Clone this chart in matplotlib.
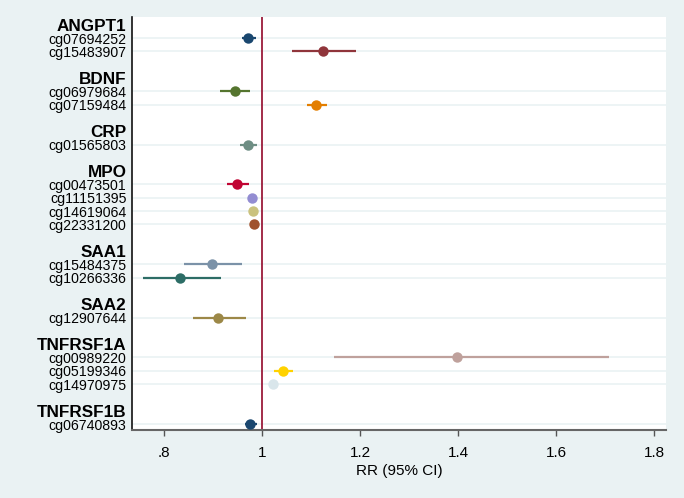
import numpy as np
import matplotlib.pyplot as plt

# gene groups and their CpG sites, top to bottom
genes = ["ANGPT1", "BDNF", "CRP", "MPO", "SAA1", "SAA2", "TNFRSF1A", "TNFRSF1B"]
cpgs = [
    ["cg07694252", "cg15483907"],
    ["cg06979684", "cg07159484"],
    ["cg01565803"],
    ["cg00473501", "cg11151395", "cg14619064", "cg22331200"],
    ["cg15484375", "cg10266336"],
    ["cg12907644"],
    ["cg00989220", "cg05199346", "cg14970975"],
    ["cg06740893"],
]
rr = [0.971, 1.124, 0.945, 1.110, 0.971, 0.949, 0.980, 0.982, 0.983,
      0.898, 0.833, 0.911, 1.398, 1.043, 1.023, 0.976]
lo = [0.959, 1.061, 0.914, 1.092, 0.955, 0.929, 0.976, 0.978, 0.979,
      0.841, 0.757, 0.860, 1.146, 1.024, 1.019, 0.965]
hi = [0.988, 1.192, 0.976, 1.133, 0.990, 0.973, 0.984, 0.986, 0.987,
      0.959, 0.917, 0.967, 1.708, 1.063, 1.027, 0.989]
xticks = [0.8, 1.0, 1.2, 1.4, 1.6, 1.8]
xticklabels = [".8", "1", "1.2", "1.4", "1.6", "1.8"]

# Stata s2color palette
palette = ["#1a476f", "#90353b", "#55752f", "#e37e00", "#6e8e84", "#c10534",
           "#938dd2", "#cac27e", "#a0522d", "#7b92a8", "#2d6d66", "#9c8847",
           "#bfa19c", "#ffd200", "#d9e6eb", "#1a476f"]
bg = "#eaf2f3"

plt.rcParams['font.family'] = ['Liberation Sans', 'DejaVu Sans']

# row positions: header row per gene, then CpG rows, blank row between groups
header_pos, item_pos, item_lab = [], [], []
r = 0
for g, sites in zip(genes, cpgs):
    header_pos.append(r)
    r += 1
    for s in sites:
        item_pos.append(r)
        item_lab.append(s)
        r += 1
    r += 1
item_pos = np.array(item_pos)

fig = plt.figure(figsize=(6.84, 4.98), dpi=100, facecolor=bg)
ax = fig.add_axes([0.193, 0.1365, 0.7807, 0.8294])
ax.set_facecolor("white")

for y in item_pos:
    ax.axhline(y, color=bg, lw=1.2, zorder=1)
ax.axvline(1, color="#9b1b3a", lw=1.3, zorder=2)

for i, y in enumerate(item_pos):
    ax.plot([lo[i], hi[i]], [y, y], color=palette[i], lw=1.6, zorder=3,
            solid_capstyle="butt")
    ax.plot(rr[i], y, "o", color=palette[i], ms=7.5, mec="none", zorder=4)

ax.set_xlim(0.7347, 1.8245)
ax.set_ylim(30.45, -0.58)

ax.set_yticks(list(item_pos) + header_pos)
labels = item_lab + genes
ax.set_yticklabels(labels)
for t, lab in zip(ax.get_yticklabels(), labels):
    if lab in genes:
        t.set_fontweight("bold")
        t.set_fontsize(12.3)
    else:
        t.set_fontsize(10.2)
ax.tick_params(axis="y", length=0, pad=4)

ax.set_xticks(xticks)
ax.set_xticklabels(xticklabels, fontsize=11)
ax.tick_params(axis="x", length=4.5, width=1, color="#555555", pad=7)
ax.set_xlabel("RR (95% CI)", fontsize=11, labelpad=3)

for s in ["top", "right"]:
    ax.spines[s].set_visible(False)
ax.spines["left"].set_color("#111111")
ax.spines["left"].set_linewidth(1.2)
ax.spines["bottom"].set_color("#666666")
ax.spines["bottom"].set_linewidth(1.5)

fig.savefig("out.png", dpi=100, facecolor=bg)
